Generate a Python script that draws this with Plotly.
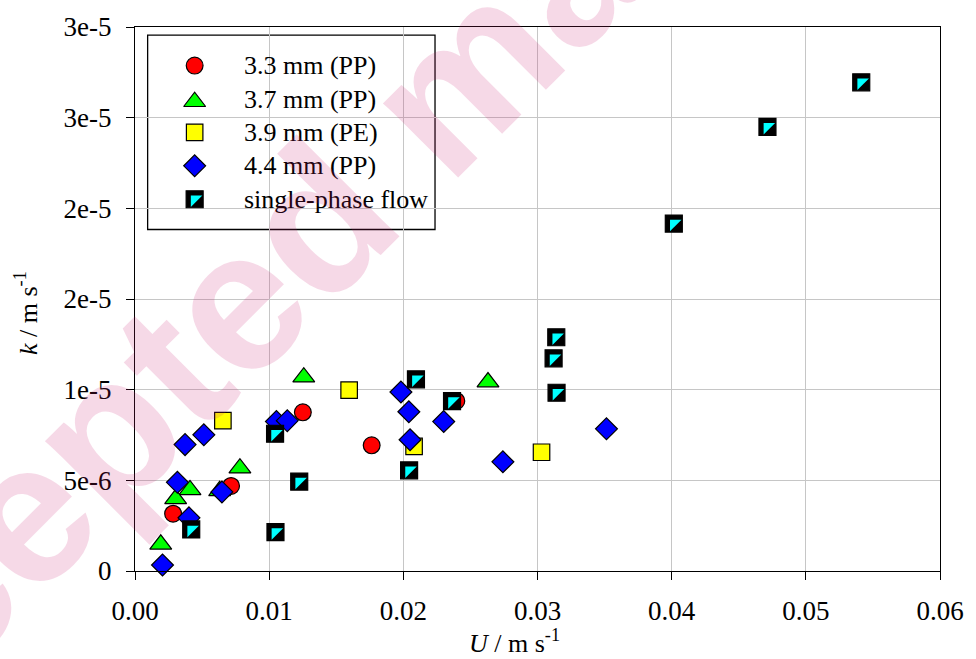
import plotly.graph_objects as go

# ---------------- data ----------------
names = ["3.3 mm (PP)", "3.7 mm (PP)", "3.9 mm (PE)", "4.4 mm (PP)", "single-phase flow"]

u_33 = [0.01251, 0.01764, 0.00716, 0.00284, 0.02395]
k_33 = [8.75e-6, 6.93e-6, 4.69e-6, 3.16e-6, 9.38e-6]

u_37 = [0.01258, 0.00782, 0.00410, 0.00303, 0.00192, 0.00631, 0.02631]
k_37 = [1.069e-5, 5.67e-6, 4.47e-6, 3.98e-6, 1.47e-6, 4.42e-6, 1.042e-5]

u_39 = [0.00655, 0.01596, 0.02080, 0.03030]
k_39 = [8.29e-6, 9.97e-6, 6.87e-6, 6.55e-6]

u_44 = [0.00205, 0.00402, 0.00316, 0.00373, 0.00513, 0.00648, 0.01054,
        0.01135, 0.01982, 0.02041, 0.02050, 0.02301, 0.02742, 0.03514]
k_44 = [3.3e-7, 2.93e-6, 4.89e-6, 6.97e-6, 7.51e-6, 4.36e-6, 8.24e-6,
        8.29e-6, 9.87e-6, 8.78e-6, 7.24e-6, 8.24e-6, 6.02e-6, 7.84e-6]

u_sp = [0.01044, 0.01224, 0.01047, 0.00419, 0.02094, 0.02043, 0.02363,
        0.03140, 0.03120, 0.03142, 0.05413, 0.04714, 0.04016]
k_sp = [7.57e-6, 4.93e-6, 2.14e-6, 2.29e-6, 1.057e-5, 5.55e-6, 9.37e-6,
        1.289e-5, 1.173e-5, 9.83e-6, 2.695e-5, 2.449e-5, 1.916e-5]

x_ticks = [0.0, 0.01, 0.02, 0.03, 0.04, 0.05, 0.06]
x_ticklabels = ["0.00", "0.01", "0.02", "0.03", "0.04", "0.05", "0.06"]
y_ticks = [0, 5e-6, 1e-5, 1.5e-5, 2e-5, 2.5e-5, 3e-5]
y_ticklabels = ["0", "5e-6", "1e-5", "2e-5", "2e-5", "3e-5", "3e-5"]

# ---------------- style ----------------
FONT = "Liberation Serif, Times New Roman, Times, DejaVu Serif, serif"
FS = 26
TICK_FS = 27
EDGE = dict(color="black", width=1.2)

styles = [
    dict(symbol="circle", size=16.8, color="#ff0000", line=EDGE),
    dict(symbol="triangle-up", size=19, color="#00ff00", line=EDGE),
    dict(symbol="square", size=16.5, color="#ffff00", line=EDGE),
    dict(symbol="diamond", size=16.8, color="#0000ff", line=EDGE),
]
sp_back = dict(symbol="square", size=17, color="black", line=EDGE)
sp_front = dict(symbol="triangle-nw", size=12.8, color="#00ffff", line=dict(width=0))

fig = go.Figure()
series = [(u_33, k_33), (u_37, k_37), (u_39, k_39), (u_44, k_44)]
for (xs, ys), st, nm in zip(series, styles, names):
    fig.add_trace(go.Scatter(x=xs, y=ys, mode="markers", marker=st, name=nm,
                             showlegend=False, cliponaxis=False))
fig.add_trace(go.Scatter(x=u_sp, y=k_sp, mode="markers", marker=sp_back,
                         name=names[4], showlegend=False, cliponaxis=False))
fig.add_trace(go.Scatter(x=u_sp, y=k_sp, mode="markers", marker=sp_front,
                         name=names[4], showlegend=False, cliponaxis=False,
                         hoverinfo="skip"))

# ---------------- legend (drawn on an overlay 0..1 axis) ----------------
leg_x0, leg_x1, leg_y0, leg_y1 = 0.0157, 0.3727, 0.6278, 0.985
sym_x, txt_x = 0.0741, 0.1327
row_top, row_step = 0.929, 0.0614
row_y = [row_top - i * row_step for i in range(5)]
tri_shift = -0.005
leg_styles = styles + [sp_back]
for i, st in enumerate(leg_styles):
    yy = row_y[i] + (tri_shift if st["symbol"] == "triangle-up" else 0)
    fig.add_trace(go.Scatter(x=[sym_x], y=[yy], mode="markers", marker=st,
                             xaxis="x2", yaxis="y2", showlegend=False,
                             hoverinfo="skip", cliponaxis=False))
fig.add_trace(go.Scatter(x=[sym_x], y=[row_y[4]], mode="markers", marker=sp_front,
                         xaxis="x2", yaxis="y2", showlegend=False,
                         hoverinfo="skip", cliponaxis=False))
fig.add_shape(type="rect", xref="x2", yref="y2", x0=leg_x0, x1=leg_x1,
              y0=leg_y0, y1=leg_y1, fillcolor="white",
              line=dict(color="black", width=1.3), layer="below")
for i, nm in enumerate(names):
    fig.add_annotation(x=txt_x, y=row_y[i], xref="paper", yref="paper",
                       text=nm, showarrow=False, xanchor="left", yanchor="middle",
                       font=dict(family=FONT, size=FS, color="black"))

# ---------------- axis titles ----------------
fig.add_annotation(x=0.412, y=-0.0965, xref="paper", yref="paper",
                   text="<i>U</i> / m s<sup>-1</sup>", showarrow=False,
                   xanchor="left", yanchor="top",
                   font=dict(family=FONT, size=FS, color="black"))
fig.add_annotation(x=-0.134, y=0.4745, xref="paper", yref="paper",
                   text="<i>k</i> / m s<sup>-1</sup>", showarrow=False,
                   textangle=-90, xanchor="center", yanchor="middle",
                   font=dict(family=FONT, size=FS, color="black"))

# ---------------- watermark ----------------
fig.add_annotation(x=0.381, y=0.875, xref="paper", yref="paper",
                   text="<b>Accepted manuscript</b>", showarrow=False,
                   textangle=-45, xanchor="center", yanchor="middle",
                   font=dict(family="Liberation Sans, Arial, sans-serif", size=200,
                             color="rgba(200,30,110,0.17)"))

axis_common = dict(showline=True, linecolor="black", linewidth=1.3, mirror=True,
                   ticks="outside", ticklen=8, tickwidth=1.3, tickcolor="black",
                   showgrid=True, gridcolor="#c6c6c6", gridwidth=1.3,
                   zeroline=False,
                   tickfont=dict(family=FONT, size=TICK_FS, color="black"))

fig.update_layout(
    width=976, height=659,
    margin=dict(l=135, r=28, t=21, b=88),
    paper_bgcolor="white", plot_bgcolor="white",
    showlegend=False,
    xaxis=dict(range=[0, 0.06], tickvals=x_ticks, ticktext=x_ticklabels,
               ticklabelstandoff=7, **axis_common),
    yaxis=dict(range=[0, 3.00001e-5], tickvals=y_ticks, ticktext=y_ticklabels,
               ticklabelstandoff=9, **axis_common),
    xaxis2=dict(overlaying="x", range=[0, 1], visible=False),
    yaxis2=dict(overlaying="y", range=[0, 1], visible=False),
)

fig.write_html("out.html", config={"displayModeBar": False},
               post_script="document.body.style.margin='0';")
